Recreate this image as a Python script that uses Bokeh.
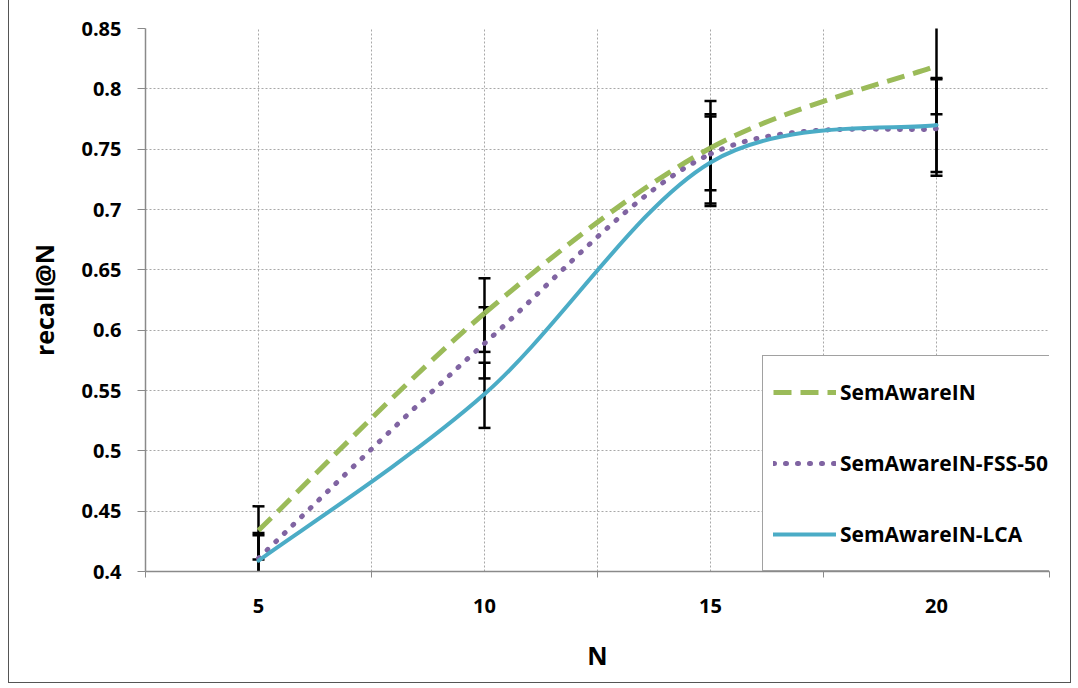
from bokeh.plotting import figure
from bokeh.models import FixedTicker, Legend, LegendItem, Range1d
from bokeh.embed import file_html
from bokeh.resources import INLINE

# ---- data ----
N = [5, 10, 15, 20]
sem = [0.434, 0.614, 0.751, 0.819]
fss = [0.411, 0.589, 0.746, 0.767]
lca = [0.409, 0.547, 0.739, 0.770]

sem_hi = [0.454, 0.643, 0.790, 0.859]
sem_lo = [0.410, 0.582, 0.716, 0.779]
fss_hi = [0.432, 0.619, 0.779, 0.808]
fss_lo = [0.390, 0.560, 0.705, 0.728]
lca_hi = [0.430, 0.573, 0.777, 0.809]
lca_lo = [0.388, 0.519, 0.703, 0.731]

series_names = ["SemAwareIN", "SemAwareIN-FSS-50", "SemAwareIN-LCA"]
x_ticks = [5, 10, 15, 20]
x_minor = [2.5, 7.5, 12.5, 17.5, 22.5]
x_grid = [2.5, 5, 7.5, 10, 12.5, 15, 17.5, 20, 22.5]
y_ticks = [0.4, 0.45, 0.5, 0.55, 0.6, 0.65, 0.7, 0.75, 0.8, 0.85]
y_tick_labels = ["0.4", "0.45", "0.5", "0.55", "0.6", "0.65", "0.7", "0.75", "0.8", "0.85"]

FONT = "Open Sans"

p = figure(width=1063, height=683, output_backend="svg", toolbar_location=None,
           x_range=Range1d(2.5, 22.5), y_range=Range1d(0.4, 0.85),
           min_border_left=136, min_border_right=23, min_border_top=28, min_border_bottom=112)
p.styles = {"border-left": "1px solid #555555", "border-right": "1px solid #555555",
            "border-bottom": "1px solid #555555", "margin-left": "8px"}
p.outline_line_color = None
p.background_fill_color = "white"
p.border_fill_color = "white"

# grids
p.xgrid.ticker = FixedTicker(ticks=x_grid)
p.ygrid.ticker = FixedTicker(ticks=y_ticks)
for g in (p.xgrid, p.ygrid):
    g.grid_line_color = "#a8a8a8"
    g.grid_line_dash = "2 2"
    g.grid_line_width = 1

# axes
p.xaxis.ticker = FixedTicker(ticks=x_ticks, minor_ticks=x_minor)
p.yaxis.ticker = FixedTicker(ticks=y_ticks)
p.yaxis.major_label_overrides = {t: l for t, l in zip(y_ticks, y_tick_labels)}
for ax in (p.xaxis[0], p.yaxis[0]):
    ax.axis_line_color = "#8a8a8a"
    ax.axis_line_width = 1.5
    ax.major_tick_line_color = "#8a8a8a"
    ax.minor_tick_line_color = "#8a8a8a"
    ax.major_label_text_font = FONT
    ax.major_label_text_font_style = "bold"
    ax.major_label_text_font_size = "20px"
    ax.major_label_text_color = "black"
    ax.axis_label_text_font = FONT
    ax.axis_label_text_font_style = "bold"
    ax.axis_label_text_font_size = "25px"
    ax.axis_label_text_color = "black"
    ax.major_tick_in = 0
    ax.minor_tick_in = 0
p.xaxis.major_tick_out = 0
p.xaxis.minor_tick_out = 6
p.xaxis.major_label_standoff = 21
p.xaxis.axis_label = "N"
p.xaxis.axis_label_standoff = 22
p.yaxis.major_tick_out = 8
p.yaxis.minor_tick_out = 0
p.yaxis.major_label_standoff = 16
p.yaxis.axis_label = "recall@N"
p.yaxis.axis_label_standoff = 17

# smoothed curves (Excel-like) through the data points
def bez(xs, ys):
    n = len(xs)
    out = dict(x0=[], y0=[], x1=[], y1=[], cx0=[], cy0=[], cx1=[], cy1=[])
    for i in range(n - 1):
        pi = i - 1 if i > 0 else i
        ni = i + 2 if i + 2 < n else i + 1
        out["x0"].append(xs[i]); out["y0"].append(ys[i])
        out["x1"].append(xs[i + 1]); out["y1"].append(ys[i + 1])
        out["cx0"].append(xs[i] + (xs[i + 1] - xs[pi]) / 6)
        out["cy0"].append(ys[i] + (ys[i + 1] - ys[pi]) / 6)
        out["cx1"].append(xs[i + 1] - (xs[ni] - xs[i]) / 6)
        out["cy1"].append(ys[i + 1] - (ys[ni] - ys[i]) / 6)
    return out

styles = [
    dict(line_color="#9BBB59", line_width=5, line_dash="18 9", line_cap="butt"),
    dict(line_color="#8064A2", line_width=5, line_dash="1 11", line_cap="round"),
    dict(line_color="#4BACC6", line_width=4, line_dash="solid", line_cap="round"),
]
vals = [sem, fss, lca]
his = [sem_hi, fss_hi, lca_hi]
los = [sem_lo, fss_lo, lca_lo]

# error bars
for hi, lo in zip(his, los):
    p.segment(x0=N, y0=lo, x1=N, y1=hi, line_color="black", line_width=2.5)
    p.scatter(x=N, y=hi, marker="dash", size=12, line_color="black", line_width=2.5)
    p.scatter(x=N, y=lo, marker="dash", size=12, line_color="black", line_width=2.5)

items = []
for ys, st, name in zip(vals, styles, series_names):
    b = bez(N, ys)
    p.bezier(x0=b["x0"], y0=b["y0"], x1=b["x1"], y1=b["y1"],
             cx0=b["cx0"], cy0=b["cy0"], cx1=b["cx1"], cy1=b["cy1"], **st)
    # legend proxy (outside the visible range)
    proxy = p.line(x=[-10, -9], y=[0, 0], **st)
    items.append(LegendItem(label=name, renderers=[proxy]))

legend = Legend(items=items, location=(617, 0), orientation="vertical",
                glyph_width=63, glyph_height=24, label_height=52, spacing=19,
                padding=10, margin=0, label_standoff=4,
                label_text_font=FONT, label_text_font_style="bold",
                label_text_font_size="21px", label_text_color="black",
                border_line_color="#444444", border_line_width=1.5,
                background_fill_color="white", background_fill_alpha=1)
p.add_layout(legend, "center")

open("out.html", "w").write(file_html(p, INLINE))
